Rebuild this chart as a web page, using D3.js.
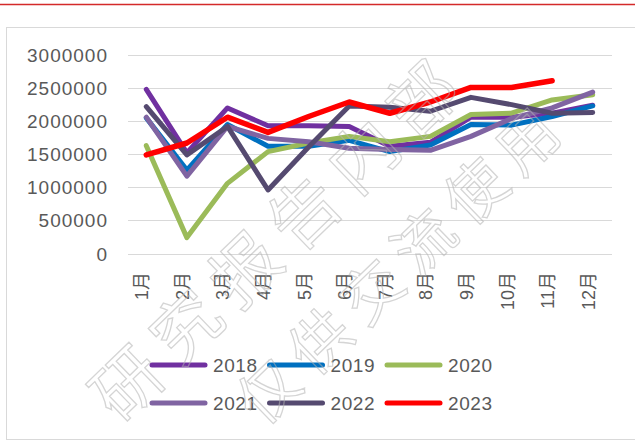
<!DOCTYPE html>
<html>
<head>
<meta charset="utf-8">
<script src="https://cdn.jsdelivr.net/npm/d3@7"></script>
<style>
  body { margin: 0; background: #fff; }
  svg { display: block; }
  text { font-family: "Liberation Sans", Arial, "Noto Sans CJK SC", sans-serif; fill: #595959; }
</style>
</head>
<body>
<div id="chart"></div>
<script>
var months = ["1月", "2月", "3月", "4月", "5月", "6月", "7月", "8月", "9月", "10月", "11月", "12月"];
var years = ["2018", "2019", "2020", "2021", "2022", "2023"];
var yTicks = [0, 500000, 1000000, 1500000, 2000000, 2500000, 3000000];

var v2018 = [2480000, 1520000, 2200000, 1930000, 1930000, 1920000, 1620000, 1680000, 2060000, 2060000, 2120000, 2240000];
var v2019 = [2050000, 1260000, 1950000, 1620000, 1620000, 1710000, 1540000, 1640000, 1950000, 1940000, 2070000, 2230000];
var v2020 = [1630000, 240000, 1060000, 1540000, 1670000, 1770000, 1690000, 1770000, 2100000, 2120000, 2320000, 2400000];
var v2021 = [2060000, 1170000, 1920000, 1740000, 1690000, 1590000, 1570000, 1560000, 1770000, 2040000, 2200000, 2440000];
var v2022 = [2220000, 1490000, 1920000, 960000, 1610000, 2230000, 2210000, 2150000, 2360000, 2250000, 2120000, 2130000];
var v2023 = [1490000, 1670000, 2060000, 1830000, 2070000, 2290000, 2120000, 2290000, 2510000, 2510000, 2610000];

var series = [v2018, v2019, v2020, v2021, v2022, v2023];
var colors = ["#7030a0", "#0070c0", "#9bbb59", "#8064a2", "#554a70", "#ff0000"];

var width = 635, height = 441;

var svg = d3.select("#chart").append("svg")
  .attr("width", width)
  .attr("height", height);

// page decorations
svg.append("line")
  .attr("x1", 0).attr("x2", width)
  .attr("y1", 4.5).attr("y2", 4.5)
  .attr("stroke", "#d42a2a")
  .attr("stroke-width", 1.5);

svg.append("rect")
  .attr("x", 6.5).attr("y", 27.5)
  .attr("width", 640).attr("height", 412)
  .attr("fill", "none")
  .attr("stroke", "#d9d9d9");

/* Scales */
var x = d3.scalePoint()
  .domain(months)
  .range([126, 613])
  .padding(0.5);

var y = d3.scaleLinear()
  .domain([0, 3000000])
  .range([253.5, 55]);

/* Grid + y labels */
var grid = svg.append("g");
grid.selectAll("line")
  .data(yTicks).enter()
  .append("line")
  .attr("x1", 128).attr("x2", 612)
  .attr("y1", d => Math.round(y(d)) + 0.5)
  .attr("y2", d => Math.round(y(d)) + 0.5)
  .attr("stroke", "#d9d9d9")
  .attr("stroke-width", 1);

grid.selectAll("text")
  .data(yTicks).enter()
  .append("text")
  .attr("x", 108)
  .attr("y", d => y(d) + 7)
  .attr("text-anchor", "end")
  .style("font-size", "19px")
  .style("letter-spacing", "1px")
  .text(d => d);

/* x labels */
svg.append("g").selectAll("text")
  .data(months).enter()
  .append("text")
  .attr("transform", d => `translate(${x(d) + 2}, 272) rotate(-90)`)
  .attr("text-anchor", "end")
  .style("font-size", "18px")
  .text(d => d);

/* lines */
var line = d3.line()
  .x((d, i) => x(months[i]))
  .y(d => y(d));

svg.append("g").selectAll("path")
  .data(series).enter()
  .append("path")
  .attr("d", d => line(d))
  .attr("fill", "none")
  .attr("stroke", (d, i) => colors[i])
  .attr("stroke-width", (d, i) => i == 5 ? 5.5 : 5)
  .attr("stroke-linejoin", "round")
  .attr("stroke-linecap", "round");

/* legend */
var legend = svg.append("g").selectAll("g")
  .data(years).enter()
  .append("g")
  .attr("transform", (d, i) => `translate(${150 + (i % 3) * 117.5}, ${i < 3 ? 365 : 403})`);

legend.append("line")
  .attr("x1", 2).attr("x2", 55)
  .attr("stroke", (d, i) => colors[i])
  .attr("stroke-width", 5)
  .attr("stroke-linecap", "round");

legend.append("text")
  .attr("x", 63)
  .attr("y", 7)
  .style("font-size", "19px")
  .style("letter-spacing", "0.6px")
  .text(d => d);

/* watermark */
var wm = svg.append("g")
  .attr("pointer-events", "none")
  .style("opacity", 0.55);
[["研究报告内部", 120, 425, 68, 14], ["仅供交流使用", 262, 428, 60, 12]].forEach(function(w) {
  wm.append("text")
    .attr("transform", `translate(${w[1]}, ${w[2]}) rotate(-44)`)
    .style("font-family", "'Noto Sans CJK SC', sans-serif")
    .style("font-size", w[3] + "px")
    .style("letter-spacing", w[4] + "px")
    .style("fill", "none")
    .style("stroke", "#b3b3b3")
    .style("stroke-width", 1.3)
    .text(w[0]);
});
</script>
</body>
</html>
